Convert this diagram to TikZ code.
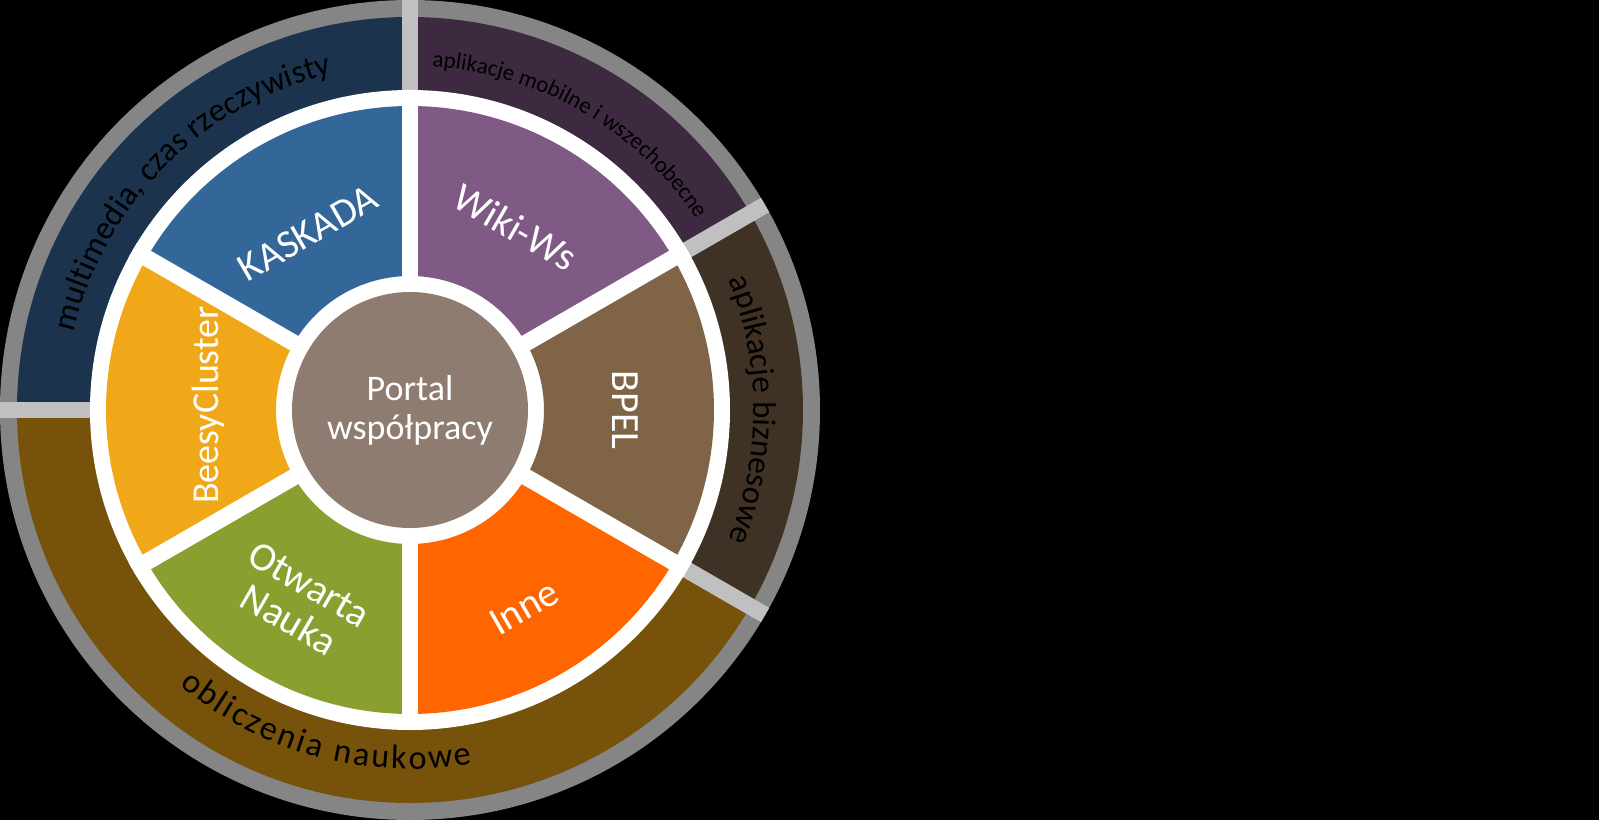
\documentclass[tikz,border=0pt]{standalone}
\usepackage{fontspec}
\setmainfont{Carlito}
\usetikzlibrary{decorations.text}

\definecolor{ringgray}{HTML}{858585}
\definecolor{sepgray}{HTML}{C0C0C0}
\definecolor{multicol}{HTML}{1B334D}
\definecolor{mobilecol}{HTML}{3D2A40}
\definecolor{bizcol}{HTML}{3F3225}
\definecolor{scicol}{HTML}{76520A}
\definecolor{kaskadacol}{HTML}{336699}
\definecolor{wikicol}{HTML}{7F5A84}
\definecolor{bpelcol}{HTML}{806448}
\definecolor{innecol}{HTML}{FF6600}
\definecolor{otwartacol}{HTML}{89A030}
\definecolor{beesycol}{HTML}{F0A818}
\definecolor{portalcol}{HTML}{8F7C70}

\begin{document}
\begin{tikzpicture}[x=1pt, y=1pt,
    seglabel/.style={text=white, font=\fontsize{40}{41}\selectfont, align=center, inner sep=0pt},
    gapline/.style={white, line width=16.6pt},
    sepline/.style={sepgray, line width=16.6pt},
    ringtext/.style={decorate, decoration={text along path, text align=center, text={#1}}}]
  % black canvas, ring centre at (0,0)
  \fill[black] (-410,-410) rectangle (1189,410);
  \useasboundingbox (-410,-410) rectangle (1189,410);

  % grey rim and the four outer domains
  \fill[ringgray] (0,0) circle[radius=410];
  \fill[multicol] (0,0) -- (90:393) arc[start angle=90, end angle=180, radius=393] -- cycle;
  \fill[mobilecol] (0,0) -- (30:393) arc[start angle=30, end angle=90, radius=393] -- cycle;
  \fill[bizcol] (0,0) -- (-30:393) arc[start angle=-30, end angle=30, radius=393] -- cycle;
  \fill[scicol] (0,0) -- (180:393) arc[start angle=180, end angle=330, radius=393] -- cycle;
  \foreach \a in {90,30,-30,180}
    \draw[sepline] (0,0) -- (\a:410);

  % white disc with the six tools
  \fill[white] (0,0) circle[radius=320];
  \foreach \a/\col in {90/kaskadacol, 30/wikicol, -30/bpelcol, -90/innecol, -150/otwartacol, 150/beesycol}
    \fill[\col] (\a:134) -- (\a:304) arc[start angle=\a, end angle={\a+60}, radius=304]
      -- ({\a+60}:134) arc[start angle={\a+60}, end angle=\a, radius=134] -- cycle;
  \foreach \a in {30,90,...,330}
    \draw[gapline] (0,0) -- (\a:320);

  % centre
  \node[circle, fill=portalcol, minimum size=236pt, inner sep=0pt, text=white,
    font=\fontsize{36}{39}\selectfont, align=center] (portal) at (0,0) {Portal\\współpracy};

  % tool labels
  \node[seglabel, rotate=30] (kaskada) at (120:204) {KASKADA};
  \node[seglabel, rotate=-30] (wiki) at (60:211) {Wiki-Ws};
  \node[seglabel, rotate=-90] (bpel) at (0:215) {BPEL};
  \node[seglabel, rotate=30] (inne) at (-60:228) {Inne};
  \node[seglabel, rotate=-30] (otwarta) at (-120:222) {Otwarta\\Nauka};
  \node[seglabel, rotate=90, font=\fontsize{38}{40}\selectfont] (beesy) at (-202,5) {BeesyCluster};

  % domain labels along the ring
  \path[ringtext={|\fontsize{33}{36}\selectfont|multimedia, czas rzeczywisty}]
    (180:345) arc[start angle=180, end angle=90, radius=345];
  \path[ringtext={|\fontsize{23}{26}\selectfont|aplikacje mobilne i wszechobecne}]
    (88:344) arc[start angle=88, end angle=32, radius=344];
  \path[ringtext={|\fontsize{33}{36}\selectfont|aplikacje biznesowe}]
    (30:344) arc[start angle=30, end angle=-30, radius=344];
  \path[decorate, decoration={text along path, text align=fit to path,
      text={|\fontsize{34}{36}\selectfont|obliczenia naukowe}}]
    (230:359) arc[start angle=230, end angle=280, radius=359];
\end{tikzpicture}
\end{document}
